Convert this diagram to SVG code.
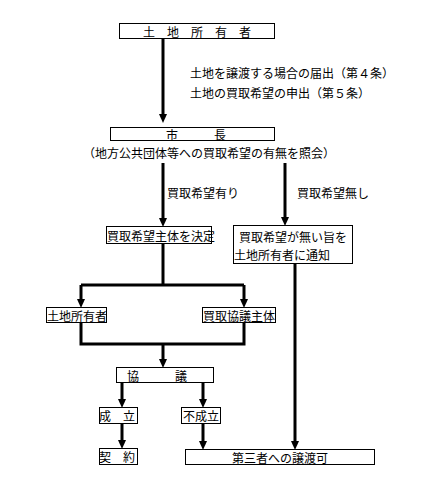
<svg xmlns="http://www.w3.org/2000/svg" width="442" height="499" viewBox="0 0 442 499">
<style>
  .bg { fill: #ffffff; }
  .box { fill: #ffffff; stroke: #000000; stroke-width: 1; }
  .t { font-family: "Noto Sans CJK JP", "Noto Sans CJK SC", sans-serif; font-size: 12px; fill: #000000; dominant-baseline: central; }
  .c { text-anchor: middle; }
  .ln { fill: none; stroke: #000000; stroke-width: 3; stroke-linejoin: miter; }
  .arr { marker-end: url(#ah); }
</style>
<defs>
  <marker id="ah" markerUnits="userSpaceOnUse" markerWidth="9" markerHeight="8" refX="4" refY="4" orient="auto">
    <path d="M0,0 L9,4 L0,8 z" fill="#000000"/>
  </marker>
</defs>
<rect class="bg" x="0" y="0" width="442" height="499"/>

<g id="connectors">
  <path class="ln arr" d="M163,39 V118"/>
  <path class="ln arr" d="M163,163 V222"/>
  <path class="ln arr" d="M285,163 V221"/>
  <path class="ln" d="M163,244 V285"/>
  <path class="ln arr" d="M81,285 V303"/>
  <path class="ln arr" d="M244,285 V303"/>
  <path class="ln" d="M81,285 H244"/>
  <path class="ln" d="M81,323 V344 H244 V323"/>
  <path class="ln arr" d="M163,344 V363"/>
  <path class="ln arr" d="M122,383 V403"/>
  <path class="ln arr" d="M203,383 V403"/>
  <path class="ln arr" d="M122,424 V444"/>
  <path class="ln arr" d="M203,424 V445"/>
  <path class="ln arr" d="M295,264 V445"/>
</g>

<g id="labels">
  <text class="t" x="190" y="72">土地を譲渡する場合の届出（第４条）</text>
  <text class="t" x="190" y="92">土地の買取希望の申出（第５条）</text>
  <text class="t" x="83" y="152">（地方公共団体等への買取希望の有無を照会）</text>
  <text class="t" x="167" y="192">買取希望有り</text>
  <text class="t" x="297" y="192">買取希望無し</text>
</g>

<g id="owner">
  <rect class="box" x="119.5" y="23.5" width="155" height="15"/>
  <text class="t c" x="197" y="31">土　地　所　有　者</text>
</g>

<g id="mayor">
  <rect class="box" x="110.5" y="127.5" width="164" height="13"/>
  <text class="t c" x="196" y="134">市　　　長</text>
</g>

<g id="decide-buyer">
  <rect class="box" x="106.5" y="226.5" width="105" height="17"/>
  <text class="t" x="107" y="235.5">買取希望主体を決定</text>
</g>

<g id="notify-none">
  <rect class="box" x="233.5" y="225.5" width="119" height="38"/>
  <text class="t" x="239" y="236">買取希望が無い旨を</text>
  <text class="t" x="234" y="254">土地所有者に通知</text>
</g>

<g id="owner2">
  <rect class="box" x="46.5" y="307.5" width="60" height="15"/>
  <text class="t" x="47" y="315">土地所有者</text>
</g>

<g id="buyer">
  <rect class="box" x="202.5" y="307.5" width="73" height="15"/>
  <text class="t" x="203" y="315">買取協議主体</text>
</g>

<g id="negotiation">
  <rect class="box" x="116.5" y="367.5" width="97" height="15"/>
  <text class="t" x="127" y="375">協　　　議</text>
</g>

<g id="agreed">
  <rect class="box" x="99.5" y="407.5" width="38" height="16"/>
  <text class="t" x="99" y="415.5">成　立</text>
</g>

<g id="not-agreed">
  <rect class="box" x="181.5" y="407.5" width="39" height="16"/>
  <text class="t" x="183" y="415.5">不成立</text>
</g>

<g id="contract">
  <rect class="box" x="99.5" y="448.5" width="38" height="16"/>
  <text class="t" x="99" y="456.5">契　約</text>
</g>

<g id="third-party">
  <rect class="box" x="185.5" y="449.5" width="189" height="15"/>
  <text class="t c" x="280" y="457">第三者への譲渡可</text>
</g>
</svg>
